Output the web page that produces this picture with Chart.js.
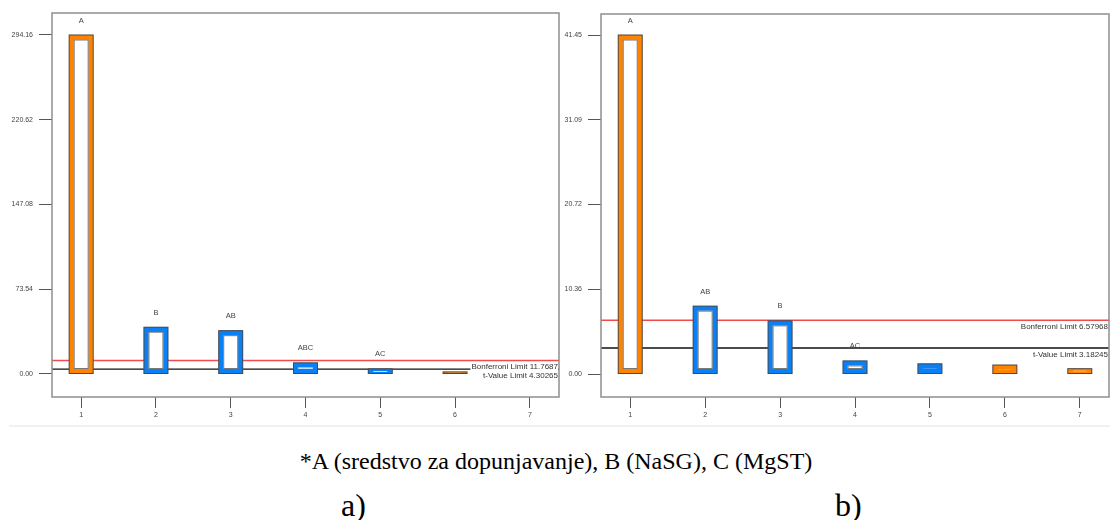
<!DOCTYPE html>
<html>
<head>
<meta charset="utf-8">
<script src="https://cdn.jsdelivr.net/npm/chart.js@4.4.0/dist/chart.umd.min.js"></script>
<style>
  body { margin: 0; background: #fff; width: 1112px; height: 520px; position: relative; overflow: hidden; font-family: "Liberation Serif", "Times New Roman", serif; }
  canvas { position: absolute; top: 0; }
  #chartA { left: 0; }
  #chartB { left: 549px; }
  .rule { position: absolute; left: 9px; right: 2px; top: 425px; height: 2px; background: #f1f1f1; }
  .note { position: absolute; top: 446px; left: 0; width: 1112px; text-align: center; font-size: 24px; line-height: 30px; color: #000; }
  .tag { position: absolute; top: 487px; font-size: 32px; line-height: 36px; color: #000; }
</style>
</head>
<body>
<canvas id="chartA" width="562" height="430"></canvas>
<canvas id="chartB" width="563" height="430"></canvas>
<div class="rule"></div>
<div class="note">*A (sredstvo za dopunjavanje), B (NaSG), C (MgST)</div>
<div class="tag" style="left:341px">a)</div>
<div class="tag" style="left:835px">b)</div>
<script>
// shared term ranks
const categories = [1, 2, 3, 4, 5, 6, 7];

// a) t-values of effects
const valuesA = [294.16, 40.6, 37.6, 9.7, 4.4, 1.8, null];
const lettersA = ['A', 'B', 'AB', 'ABC', 'AC', '', ''];
const signA = ['+', '-', '-', '-', '-', '+', '+'];
const ticksA = [0, 73.54, 147.08, 220.62, 294.16];
const limitsA = [11.7687, 4.30265];
const limitTextA = ['Bonferroni Limit 11.7687', 't-Value Limit 4.30265'];

// b)
const valuesB = [41.45, 8.3, 6.5, 1.6, 1.25, 1.1, 0.65];
const lettersB = ['A', 'AB', 'B', 'AC', '', '', ''];
const signB = ['+', '-', '-', '-', '-', '+', '+'];
const ticksB = [0, 10.36, 20.72, 31.09, 41.45];
const limitsB = [6.57968, 3.18245];
const limitTextB = ['Bonferroni Limit 6.57968', 't-Value Limit 3.18245'];

const ORANGE = '#ff8200';
const BLUE = '#0a80f6';
const LIMIT_COLORS = ['#f04a4a', '#111111'];
const BW = 5;

const paretoPlugin = {
  id: 'pareto',
  beforeDatasetsDraw(chart, args, opts) {
    const { ctx, chartArea: a } = chart;
    const y = chart.scales.y;
    ctx.save();
    opts.limits.forEach((v, i) => {
      const py = y.getPixelForValue(v);
      ctx.strokeStyle = LIMIT_COLORS[i];
      ctx.lineWidth = i === 0 ? 1.5 : 1.3;
      ctx.beginPath();
      ctx.moveTo(a.left, py);
      ctx.lineTo(a.right, py);
      ctx.stroke();
    });
    ctx.restore();
  },
  afterDatasetsDraw(chart, args, opts) {
    const { ctx, chartArea: a } = chart;
    const y = chart.scales.y;
    const meta = chart.getDatasetMeta(0);
    ctx.save();
    // thin dark outlines + letters
    meta.data.forEach((el, i) => {
      if (opts.values[i] == null) return;
      const p = el.getProps(['x', 'y', 'base', 'width'], true);
      const left = p.x - p.width / 2;
      const h = p.base - p.y;
      ctx.strokeStyle = '#4a4a4a';
      ctx.lineWidth = 1;
      ctx.strokeRect(left, p.y, p.width, h);
      if (opts.letters[i] && h > 2 * BW + 1) {
        ctx.strokeStyle = '#777';
        ctx.strokeRect(left + BW, p.y + BW, p.width - 2 * BW, h - 2 * BW);
      }
      if (opts.letters[i]) {
        ctx.fillStyle = '#444';
        ctx.font = '7.5px "Liberation Sans", Arial, sans-serif';
        ctx.textAlign = 'center';
        ctx.textBaseline = 'middle';
        ctx.fillText(opts.letters[i], p.x, p.y - 14.5);
      }
    });
    // limit labels
    ctx.font = '8px "Liberation Sans", Arial, sans-serif';
    ctx.textAlign = 'right';
    ctx.textBaseline = 'middle';
    opts.limits.forEach((v, i) => {
      const py = y.getPixelForValue(v) + 6.5;
      const w = ctx.measureText(opts.limitText[i]).width;
      ctx.fillStyle = '#fff';
      ctx.fillRect(a.right - 1 - w - 1, py - 4, w + 1, 8);
      ctx.fillStyle = '#333';
      ctx.fillText(opts.limitText[i], a.right - 1, py);
    });
    // frame
    ctx.strokeStyle = '#8f8f8f';
    ctx.lineWidth = 1.5;
    ctx.strokeRect(a.left, a.top, a.right - a.left, a.bottom - a.top);
    ctx.restore();
  }
};

function makeChart(id, values, letters, signs, yTicks, yMin, yMax, limits, limitText, padTop) {
  const colors = signs.map(s => s === '+' ? ORANGE : BLUE);
  new Chart(document.getElementById(id), {
    type: 'bar',
    data: {
      datasets: [{
        data: categories.map((c, i) => ({ x: c, y: values[i] })),
        borderColor: colors,
        backgroundColor: colors.map((c, i) => letters[i] ? '#ffffff' : c),
        borderWidth: BW,
        borderSkipped: false,
        barThickness: 24
      }]
    },
    options: {
      responsive: false,
      animation: false,
      devicePixelRatio: 1,
      layout: { padding: { top: padTop, right: 3, left: 0, bottom: 0 } },
      plugins: {
        legend: { display: false },
        tooltip: { enabled: false },
        pareto: { values, letters, limits, limitText }
      },
      scales: {
        x: {
          type: 'linear',
          offset: false,
          min: 0.61,
          max: 7.39,
          afterBuildTicks: s => { s.ticks = categories.map(v => ({ value: v })); },
          afterFit: s => { s.height = 33; },
          border: { display: false },
          grid: { offset: false, drawOnChartArea: false, tickLength: 11, color: '#555', lineWidth: 1 },
          ticks: { color: '#444', font: { family: 'Liberation Sans', size: 7 }, padding: 3, callback: v => String(v) }
        },
        y: {
          min: yMin,
          max: yMax,
          afterBuildTicks: s => { s.ticks = yTicks.map(v => ({ value: v })); },
          afterFit: s => { s.width = 52; },
          border: { display: false },
          grid: { drawOnChartArea: false, tickLength: 13, color: '#555', lineWidth: 1 },
          ticks: { color: '#444', font: { family: 'Liberation Sans', size: 7 }, padding: 6, callback: v => Number(v).toFixed(2) }
        }
      }
    },
    plugins: [paretoPlugin]
  });
}

makeChart('chartA', valuesA, lettersA, signA, ticksA, -19.96, 313.25, limitsA, limitTextA, 13);
makeChart('chartB', valuesB, lettersB, signB, ticksB, -2.81, 44.02, limitsB, limitTextB, 14);
</script>
</body>
</html>
